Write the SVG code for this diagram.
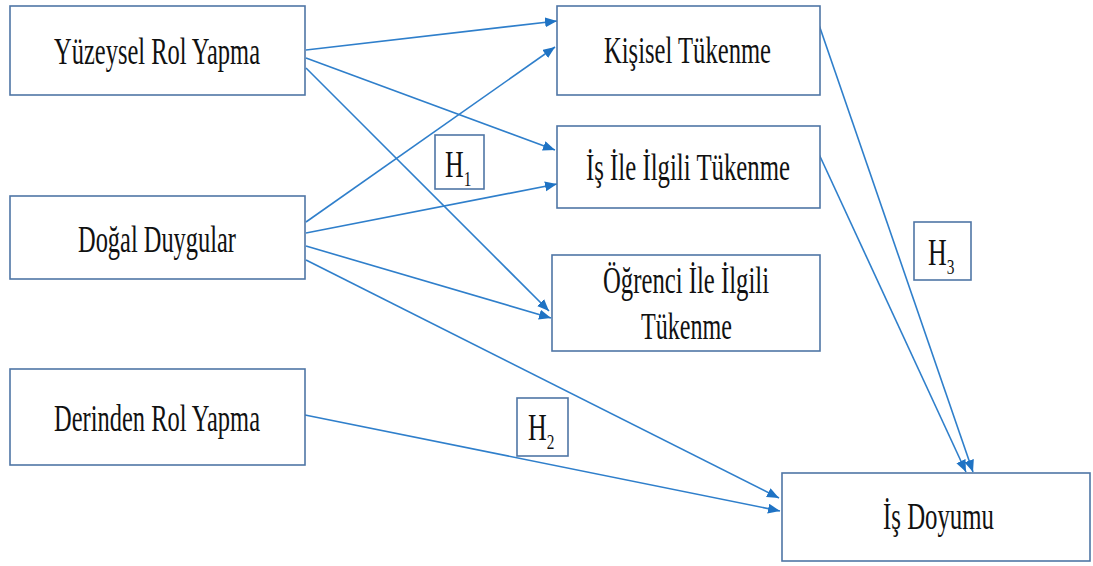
<svg xmlns="http://www.w3.org/2000/svg" width="1093" height="566" viewBox="0 0 1093 566">
<style>
.box{fill:#fff;stroke:#4f76a6;stroke-width:1.6}
.lbl{font-family:"Liberation Serif","Times New Roman",serif;font-size:37px;fill:#111;text-anchor:start}
.hl{font-family:"Liberation Serif","Times New Roman",serif;font-size:37px;fill:#111}
.sub{font-size:22px}
.con{stroke:#2f7fcb;stroke-width:1.6;fill:none;marker-end:url(#ah)}
</style>
<defs>
<marker id="ah" markerUnits="userSpaceOnUse" markerWidth="13" markerHeight="11" refX="12" refY="5" orient="auto">
<path d="M0,0 L12,5 L0,10 z" fill="#1f73c4"/>
</marker>
</defs>
<rect width="1093" height="566" fill="#fff"/>
<g id="connectors">
<line class="con" x1="306" y1="50" x2="557" y2="21"/>
<line class="con" x1="306" y1="58" x2="555" y2="150"/>
<line class="con" x1="306" y1="68" x2="549" y2="311"/>
<line class="con" x1="306" y1="222" x2="555" y2="47"/>
<line class="con" x1="306" y1="233" x2="557" y2="184"/>
<line class="con" x1="306" y1="246" x2="551" y2="318"/>
<line class="con" x1="306" y1="260" x2="779" y2="498"/>
<line class="con" x1="305" y1="415" x2="780" y2="511"/>
<line class="con" x1="818" y1="22" x2="973" y2="472"/>
<line class="con" x1="818" y1="152" x2="966" y2="472"/>
</g>
<g id="n-yuzeysel">
<rect class="box" x="10" y="6" width="295" height="89"/>
<text class="lbl" x="54" y="64" textLength="206" lengthAdjust="spacingAndGlyphs">Yüzeysel Rol Yapma</text>
</g>
<g id="n-dogal">
<rect class="box" x="10" y="196" width="295" height="83"/>
<text class="lbl" x="78" y="252" textLength="158" lengthAdjust="spacingAndGlyphs">Doğal Duygular</text>
</g>
<g id="n-derinden">
<rect class="box" x="10" y="369" width="295" height="96"/>
<text class="lbl" x="54" y="431" textLength="206" lengthAdjust="spacingAndGlyphs">Derinden Rol Yapma</text>
</g>
<g id="n-kisisel">
<rect class="box" x="557" y="6" width="263" height="89"/>
<text class="lbl" x="604" y="63" textLength="167" lengthAdjust="spacingAndGlyphs">Kişisel Tükenme</text>
</g>
<g id="n-isile">
<rect class="box" x="557" y="126" width="263" height="82"/>
<text class="lbl" x="586" y="180" textLength="204" lengthAdjust="spacingAndGlyphs">İş İle İlgili Tükenme</text>
</g>
<g id="n-ogrenci">
<rect class="box" x="552" y="255" width="268" height="96"/>
<text class="lbl" x="603" y="293" textLength="166" lengthAdjust="spacingAndGlyphs">Öğrenci İle İlgili</text>
<text class="lbl" x="641" y="339" textLength="91" lengthAdjust="spacingAndGlyphs">Tükenme</text>
</g>
<g id="n-isdoyumu">
<rect class="box" x="782" y="473" width="308" height="88"/>
<text class="lbl" x="883" y="529" textLength="111" lengthAdjust="spacingAndGlyphs">İş Doyumu</text>
</g>
<g id="h1">
<rect class="box" x="435" y="135" width="49" height="54"/>
<text class="hl" transform="translate(445,177) scale(0.7,1)">H<tspan class="sub" dy="9">1</tspan></text>
</g>
<g id="h2">
<rect class="box" x="517" y="398" width="51" height="58"/>
<text class="hl" transform="translate(528,440) scale(0.7,1)">H<tspan class="sub" dy="9">2</tspan></text>
</g>
<g id="h3">
<rect class="box" x="914" y="222" width="57" height="58"/>
<text class="hl" transform="translate(928,265) scale(0.7,1)">H<tspan class="sub" dy="9">3</tspan></text>
</g>
</svg>
